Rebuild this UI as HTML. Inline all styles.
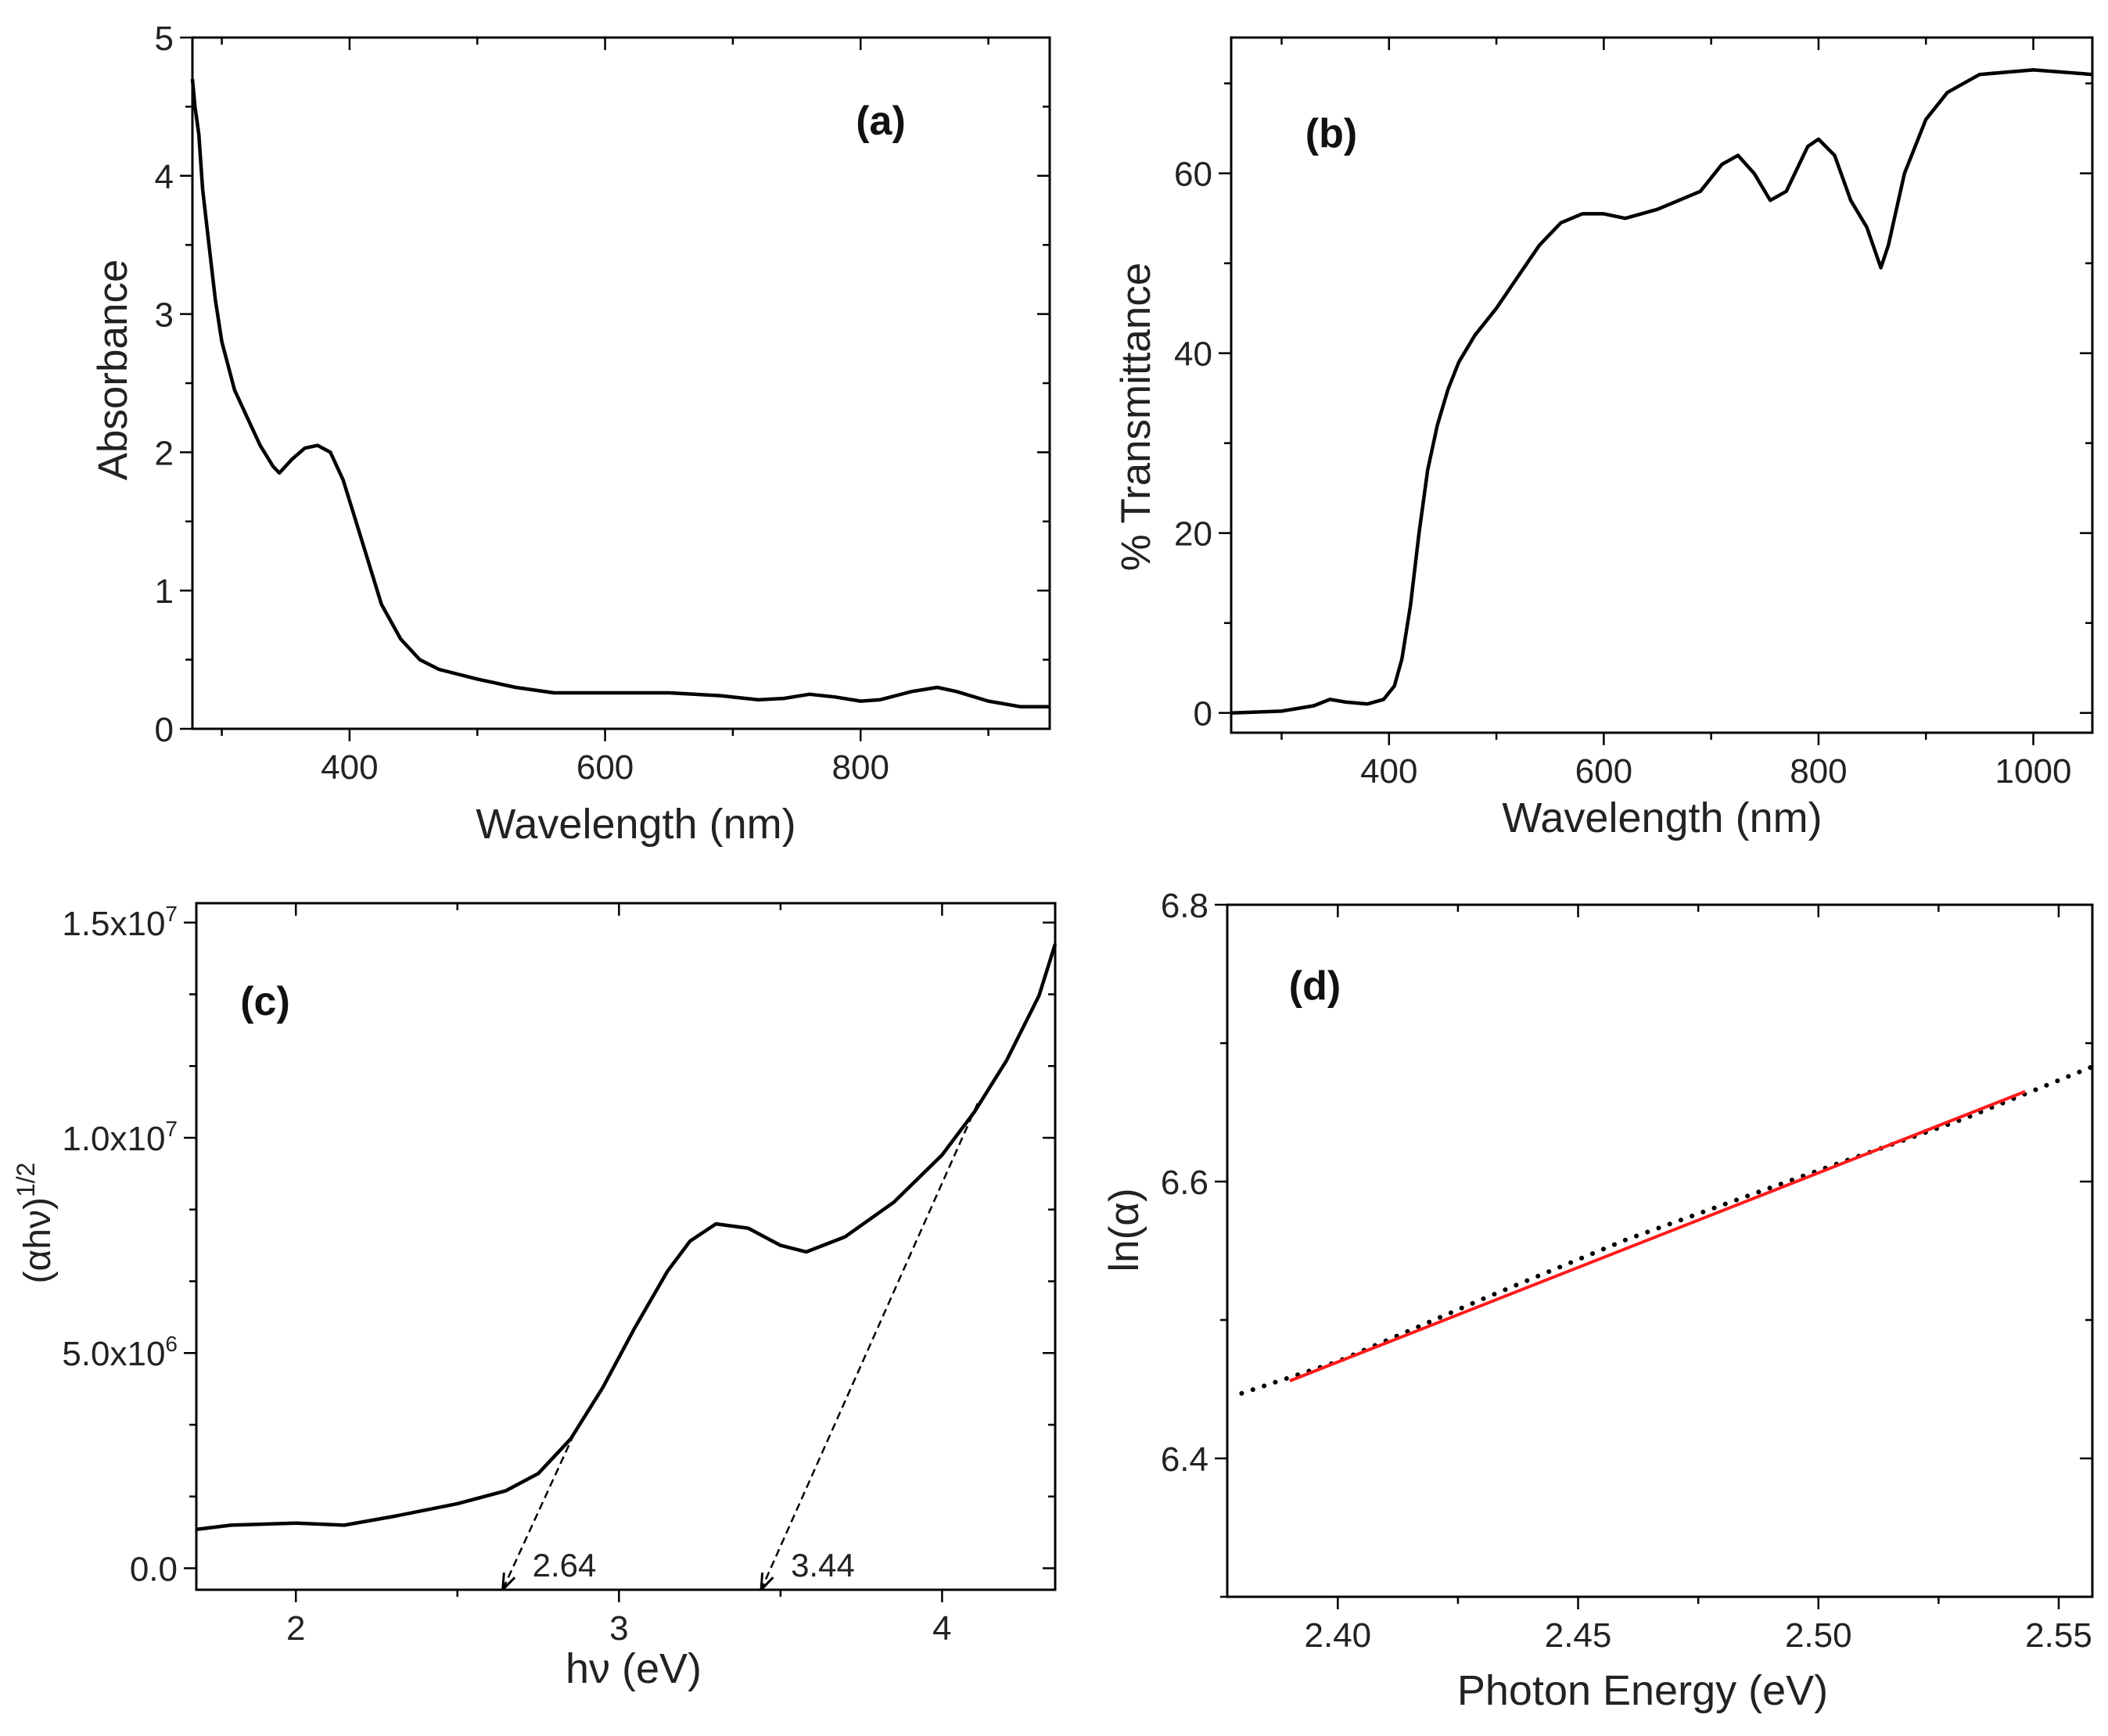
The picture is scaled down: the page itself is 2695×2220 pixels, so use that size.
<!DOCTYPE html>
<html><head><meta charset="utf-8">
<style>
html,body{margin:0;padding:0;background:#fff;}
svg{display:block;font-family:"Liberation Sans",Arial,sans-serif;}
</style></head>
<body>
<svg id="fig" width="2695" height="2220" viewBox="0 0 2695 2220" xmlns="http://www.w3.org/2000/svg"></svg>
<script>
// Panel (a) data
const aWavelength=[277,279,282,285,290,295,300,310,320,330,340,345,355,365,375,385,395,405,415,425,440,455,470,500,530,560,600,650,690,720,740,760,780,800,815,840,860,875,900,925,948];
const aAbsorbance=[4.7,4.5,4.3,3.9,3.5,3.1,2.8,2.45,2.25,2.05,1.9,1.85,1.95,2.03,2.05,2.0,1.8,1.5,1.2,0.9,0.65,0.5,0.43,0.36,0.3,0.26,0.26,0.26,0.24,0.21,0.22,0.25,0.23,0.2,0.21,0.27,0.3,0.27,0.2,0.16,0.16];
const aXTicks=[400,600,800];
const aYTicks=[0,1,2,3,4,5];
// Panel (b) data
const bWavelength=[253,300,330,345,360,380,395,405,412,420,428,436,445,455,465,480,500,520,540,560,580,600,620,650,690,710,725,740,755,770,790,800,815,830,845,858,865,880,900,920,950,1000,1055];
const bTransmittance=[0,0.2,0.8,1.5,1.2,1.0,1.5,3,6,12,20,27,32,36,39,42,45,48.5,52,54.5,55.5,55.5,55,56,58,61,62,60,57,58,63,63.8,62,57,54,49.5,52,60,66,69,71,71.5,71];
const bXTicks=[400,600,800,1000];
const bYTicks=[0,20,40,60];
// Panel (c) data
const cEnergy=[1.69,1.8,2.0,2.15,2.3,2.5,2.65,2.75,2.85,2.95,3.05,3.15,3.22,3.3,3.4,3.5,3.58,3.7,3.85,4.0,4.1,4.2,4.3,4.35];
const cValueMillions=[0.9,1.0,1.05,1.0,1.2,1.5,1.8,2.2,3.0,4.2,5.6,6.9,7.6,8.0,7.9,7.5,7.35,7.7,8.5,9.6,10.6,11.8,13.3,14.5];
const cFitStartX=[2.861,4.11];
const cFitStartY=[3.12,10.8];
const cGapValues=[2.64,3.44];
const cXTicks=[2,3,4];
const cYTicks=[0,5,10,15];
const cYTickLabels=["0.0","5.0x10","1.0x10","1.5x10"];
const cYTickExp=["","6","7","7"];
// Panel (d) data
const dEnergy=[2.38,2.40,2.43,2.46,2.50,2.53,2.557];
const dLnAlpha=[6.447,6.47,6.515,6.558,6.608,6.645,6.683];
const dFitX=[2.39,2.543];
const dFitY=[6.456,6.665];
const dXTicks=[2.40,2.45,2.50,2.55];
const dYTicks=[6.4,6.6,6.8];

const NS="http://www.w3.org/2000/svg";
const svg=document.getElementById('fig');
function el(tag,attrs,parent){const e=document.createElementNS(NS,tag);for(const k in attrs)e.setAttribute(k,attrs[k]);(parent||svg).appendChild(e);return e;}
function scale(d0,d1,r0,r1){return v=>r0+(v-d0)/(d1-d0)*(r1-r0);}

function panel(o){
  const g=el('g',{});
  
  
  const X=scale(o.xd[0],o.xd[1],o.L,o.R), Y=scale(o.yd[0],o.yd[1],o.B,o.T);
  const fr=el('rect',{x:o.L,y:o.T,width:o.R-o.L,height:o.B-o.T,fill:'none',stroke:'#000','stroke-width':3},g);
  
  
  for(let v=o.xMinorStart; v<=o.xd[1]+1e-9; v+=o.xMinor){
    if(v<o.xd[0]-1e-9) continue;
    const major=o.xTicks.some(t=>Math.abs(t-v)<1e-6);
    const len=major?16:9, x=X(v);
    el('line',{x1:x,y1:o.B,x2:x,y2:o.B+len,stroke:'#000','stroke-width':2.5},g);
    el('line',{x1:x,y1:o.T,x2:x,y2:o.T+len,stroke:'#000','stroke-width':2.5},g);
  }
  for(let v=o.yMinorStart; v<=o.yd[1]+1e-9; v+=o.yMinor){
    if(v<o.yd[0]-1e-9) continue;
    const major=o.yTicks.some(t=>Math.abs(t-v)<1e-6);
    const len=major?16:9, y=Y(v);
    el('line',{x1:o.L,y1:y,x2:o.L-len,y2:y,stroke:'#000','stroke-width':2.5},g);
    el('line',{x1:o.R,y1:y,x2:o.R-len,y2:y,stroke:'#000','stroke-width':2.5},g);
  }
  o.xTicks.forEach((t,i)=>{
    const tx=el('text',{x:X(t),y:o.B+64,'font-size':44,'text-anchor':'middle',fill:'#222'},g);
    tx.textContent=o.xFmt?o.xFmt(t):String(t);
    
    
  });
  o.yTicks.forEach((t,i)=>{
    const ty=el('text',{x:o.L-24,y:Y(t)+16,'font-size':44,'text-anchor':'end',fill:'#222'},g);
    if(o.yLab){ty.textContent=o.yLab[i]; if(o.yExp[i]){const ts=el('tspan',{dy:-18,'font-size':28},ty);ts.textContent=o.yExp[i];}}
    else ty.textContent=o.yFmt?o.yFmt(t):String(t);
    
    
  });
  const xt=el('text',{x:o.xtPos[0],y:o.xtPos[1],'font-size':54,'text-anchor':'middle',fill:'#222'},g);
  xt.textContent=o.xTitle;
  
  
  const yt=el('text',{x:0,y:0,'font-size':o.ytSize||53,'text-anchor':'middle',fill:'#222',transform:`translate(${o.ytPos[0]},${o.ytPos[1]}) rotate(-90)`},g);
  yt.innerHTML=o.yTitle;
  
  
  const lb=el('text',{x:o.lbl[0],y:o.lbl[1],'font-size':52,'font-weight':'bold','text-anchor':'middle',fill:'#111'},g);
  lb.textContent=o.label;
  
  
  return {g,X,Y};
}
function linePath(xs,ys,X,Y){return xs.map((v,i)=>(i?'L':'M')+X(v).toFixed(1)+','+Y(ys[i]).toFixed(1)).join(' ');}

// (a)
let p=panel({name:'panel-a',L:246,R:1342,T:48,B:932,xd:[277,948],yd:[0,5],xTicks:aXTicks,yTicks:aYTicks,xMinor:100,xMinorStart:300,yMinor:0.5,yMinorStart:0,
  xTitle:'Wavelength (nm)',xtPos:[813,1072],yTitle:'Absorbance',ytPos:[162,473],label:'(a)',lbl:[1126,172]});
let s=el('path',{d:linePath(aWavelength,aAbsorbance,p.X,p.Y),fill:'none',stroke:'#000','stroke-width':4.5,'stroke-linejoin':'round'},p.g);



// (b)
p=panel({name:'panel-b',L:1574,R:2675,T:48,B:937,xd:[253,1055],yd:[-2.2,75.1],xTicks:bXTicks,yTicks:bYTicks,xMinor:100,xMinorStart:300,yMinor:10,yMinorStart:0,
  xTitle:'Wavelength (nm)',xtPos:[2125,1064],yTitle:'% Transmittance',ytPos:[1470,533],label:'(b)',lbl:[1702,188]});
s=el('path',{d:linePath(bWavelength,bTransmittance,p.X,p.Y),fill:'none',stroke:'#000','stroke-width':4.5,'stroke-linejoin':'round'},p.g);



// (c)
p=panel({name:'panel-c',L:251,R:1349,T:1155,B:2033,xd:[1.692,4.35],yd:[-0.5,15.45],xTicks:cXTicks,yTicks:cYTicks,yLab:cYTickLabels,yExp:cYTickExp,xMinor:0.5,xMinorStart:2,yMinor:5/3,yMinorStart:0,
  xTitle:'h\u03bd (eV)',xtPos:[810,2152],yTitle:'(\u03b1h\u03bd)<tspan dy="-20" font-size="32">1/2</tspan>',ytSize:48,ytPos:[64,1564],label:'(c)',lbl:[339,1298]});
s=el('path',{d:linePath(cEnergy,cValueMillions,p.X,p.Y),fill:'none',stroke:'#000','stroke-width':4.5,'stroke-linejoin':'round'},p.g);


cGapValues.forEach((gv,i)=>{
  const x1=p.X(cFitStartX[i]),y1=p.Y(cFitStartY[i]),x2=p.X(gv),y2=2033;
  const ln=el('line',{x1:x1,y1:y1,x2:x2,y2:y2,stroke:'#000','stroke-width':2.5,'stroke-dasharray':'10,6'},p.g);
  
  
  const ang=Math.atan2(y2-y1,x2-x1),L=22,w=0.35;
  const ah=el('path',{d:`M${x2},${y2} L${x2-L*Math.cos(ang-w)},${y2-L*Math.sin(ang-w)} M${x2},${y2} L${x2-L*Math.cos(ang+w)},${y2-L*Math.sin(ang+w)}`,stroke:'#000','stroke-width':3,fill:'none'},p.g);
  
  
  const t=el('text',{x:x2+38,y:2016,'font-size':42,fill:'#222'},p.g);
  t.textContent=gv.toFixed(2);
  
  
});

// (d)
p=panel({name:'panel-d',L:1569,R:2675,T:1157,B:2042,xd:[2.377,2.557],yd:[6.3,6.8],xTicks:dXTicks,yTicks:dYTicks,xFmt:v=>v.toFixed(2),yFmt:v=>v.toFixed(1),xMinor:0.025,xMinorStart:2.375,yMinor:0.1,yMinorStart:6.3,
  xTitle:'Photon Energy (eV)',xtPos:[2100,2180],yTitle:'ln(\u03b1)',ytPos:[1455,1573],label:'(d)',lbl:[1681,1278]});
s=el('path',{d:linePath(dEnergy,dLnAlpha,p.X,p.Y),fill:'none',stroke:'#000','stroke-width':6,'stroke-linecap':'round','stroke-dasharray':'0.1,15'},p.g);


s=el('path',{d:linePath(dFitX,dFitY,p.X,p.Y),fill:'none',stroke:'#ff1a1a','stroke-width':4},p.g);


</script>
</body></html>
